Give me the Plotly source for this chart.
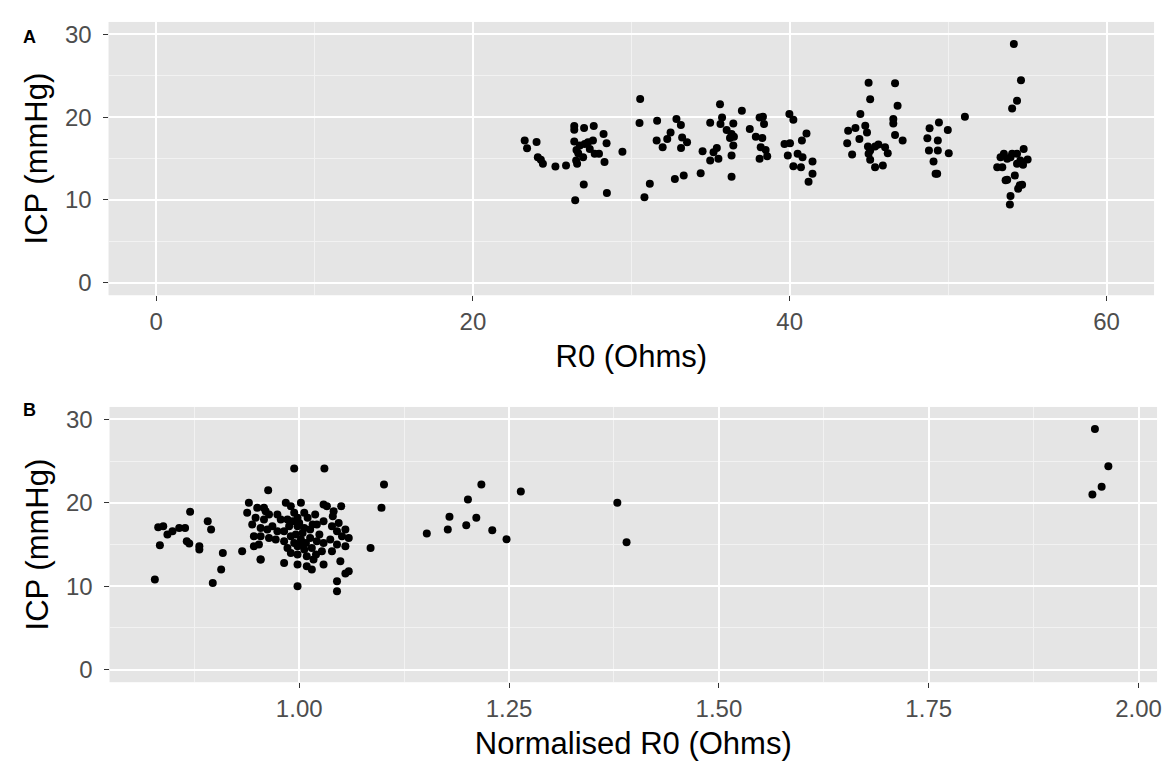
import plotly.graph_objects as go

# ---- Panel A data: R0 (Ohms) vs ICP (mmHg) ----
r0 = [23.27, 23.42, 24.02, 24.1, 24.29, 24.42, 25.21, 25.88, 26.4, 26.4, 27.02, 27.63, 26.4, 26.54,
      26.65, 26.52, 26.58, 26.96, 26.75, 27.06, 27.27, 27.58, 27.38, 27.69, 27.96, 28.25, 28.44, 28.31,
      27.0, 26.46, 28.46, 29.44, 30.56, 30.52, 30.83, 31.17, 31.63, 31.6, 31.98, 32.27, 32.48, 32.85,
      33.13, 33.21, 33.52, 33.14, 32.75, 33.31, 34.38, 34.5, 34.98, 35.6, 35.73, 35.63, 36.44, 36.02,
      36.33, 36.23, 36.48, 35.4, 35.19, 34.98, 35.5, 36.44, 36.33, 36.33, 36.98, 37.48, 38.1, 38.31,
      38.38, 37.86, 38.27, 38.17, 38.48, 38.1, 38.58, 39.98, 40.23, 39.67, 40.02, 39.88, 40.5, 40.81,
      40.23, 40.71, 40.77, 41.06, 41.44, 41.44, 41.19, 43.69, 44.15, 43.63, 43.94, 44.46, 44.77, 44.88,
      44.4, 44.98, 45.08, 44.94, 45.08, 44.98, 45.39, 45.6, 46.02, 46.19, 45.08, 45.39, 45.88, 46.65,
      46.81, 46.54, 46.54, 46.65, 47.13, 48.83, 49.42, 49.98, 48.69, 49.35, 48.79, 49.35, 50.04, 49.08,
      49.21, 49.31, 51.06, 54.15, 54.6, 54.35, 54.04, 53.52, 54.04, 54.35, 54.77, 53.31, 53.73, 53.1,
      53.42, 53.94, 54.56, 55.02, 54.73, 54.35, 54.21, 53.73, 53.63, 54.52, 54.67, 54.42, 53.94, 53.9]
icp_a = [17.17, 16.25, 17.0, 15.16, 14.85, 14.37, 14.05, 14.17, 18.93, 18.49, 18.69, 18.93, 17.05, 16.05,
         15.64, 14.77, 14.37, 15.16, 16.57, 16.77, 16.96, 17.17, 16.17, 15.57, 15.57, 17.97, 16.84, 14.6,
         11.88, 9.96, 10.84, 15.81, 22.2, 19.29, 10.32, 11.97, 19.57, 17.17, 16.37, 17.37, 18.16, 19.77,
         19.05, 17.56, 16.96, 16.29, 12.52, 12.97, 13.24, 15.88, 19.33, 21.57, 19.97, 19.17, 19.25, 18.45,
         17.97, 17.49, 17.65, 16.29, 15.76, 14.77, 14.97, 16.57, 15.37, 12.81, 20.77, 18.57, 19.97, 20.05,
         19.17, 17.65, 17.49, 16.37, 16.05, 14.97, 15.29, 20.37, 19.69, 16.77, 16.84, 15.37, 15.57, 15.16,
         14.08, 13.96, 17.17, 18.04, 14.65, 13.17, 12.21, 18.37, 18.69, 16.84, 15.49, 20.37, 18.97, 18.16,
         17.37, 24.17, 22.17, 16.45, 15.97, 15.57, 16.45, 16.69, 16.37, 15.64, 14.85, 13.96, 14.17, 24.09,
         21.37, 19.77, 19.25, 17.85, 17.17, 18.65, 19.37, 18.45, 17.45, 17.17, 15.97, 15.97, 15.64, 14.65,
         13.17, 13.17, 20.05, 28.85, 24.45, 21.97, 21.05, 15.57, 15.57, 15.57, 16.17, 15.16, 14.97, 13.96,
         13.96, 15.16, 14.77, 14.89, 14.25, 14.37, 12.97, 12.45, 12.37, 11.77, 11.85, 11.37, 10.48, 9.45]

# ---- Panel B data: Normalised R0 vs ICP (mmHg) ----
norm_r0 = [0.828, 0.832, 0.838, 0.834, 0.843, 0.849, 0.857, 0.864, 0.870, 0.866, 0.869,
           0.994, 1.030, 0.963, 1.101,
           1.152, 1.177, 1.179, 1.199, 1.201, 1.211, 1.217, 1.230,
           1.247, 1.264, 1.379, 1.390, 1.948, 1.964, 1.956, 1.945,
           0.940, 0.950, 0.958, 0.938, 0.948, 0.958, 0.964, 0.974, 0.984, 0.990, 1.002, 0.994, 0.986,
           0.998, 1.006, 1.029, 1.033, 1.041, 1.019, 1.021, 1.029, 1.039, 1.047, 1.045, 1.055, 1.051,
           1.059, 0.944, 0.954, 0.962, 0.974, 0.982, 0.988, 0.998, 1.006, 1.013, 0.946, 0.954, 0.964,
           0.972, 0.982, 0.990, 0.994, 1.002, 1.013, 1.021, 1.029, 1.037, 1.045, 1.055, 0.998, 1.006,
           1.015, 1.027, 1.039, 0.990, 0.998, 1.009, 1.017, 1.029, 0.982, 0.998, 1.009, 0.954, 0.954,
           0.932, 0.909, 0.891, 0.895, 0.881, 0.881, 0.907, 0.897, 0.998, 1.045, 1.045, 1.055, 1.059,
           1.049, 1.085, 1.098, 1.015, 0.946,
           0.996, 1.000, 1.004, 0.992, 1.010, 0.978, 0.968, 1.024, 1.016, 1.000, 1.008, 0.986,
           1.020, 0.960, 1.050, 1.040, 0.952]
icp_b = [10.8, 17.08, 17.2, 14.92, 16.2, 16.6, 17.0, 17.0, 18.92, 15.4, 15.12,
         24.12, 24.12, 21.52, 22.2,
         16.32, 16.8, 18.32, 17.32, 20.4, 18.2, 22.2, 16.72,
         15.64, 21.36, 20.0, 15.28, 28.84, 24.4, 21.92, 21.0,
         20.0, 19.4, 19.4, 18.8, 18.2, 18.0, 18.6, 18.6, 20.0, 19.6, 20.0, 18.8, 18.0,
         18.2, 18.8, 19.8, 19.6, 19.0, 18.6, 17.4, 17.8, 17.2, 17.6, 16.6, 16.8, 16.0,
         15.8, 17.4, 17.0, 16.8, 16.6, 16.6, 17.2, 17.2, 17.0, 16.8, 16.0, 16.0, 15.8,
         15.6, 15.4, 16.0, 15.2, 15.6, 15.8, 15.4, 15.2, 15.6, 15.0, 14.8, 14.8, 14.4,
         14.6, 14.2, 14.2, 14.0, 13.8, 13.6, 13.2, 12.6, 12.8, 12.6, 12.4, 13.2, 13.2,
         14.2, 14.0, 17.8, 16.8, 14.8, 14.4, 12.0, 10.4, 10.0, 10.6, 9.4, 11.52, 11.8,
         13.0, 14.6, 19.4, 12.0, 14.8,
         16.2, 17.6, 16.4, 17.8, 18.2, 18.0, 17.2, 16.2, 17.4, 15.0, 15.2, 14.6,
         13.8, 19.0, 19.6, 18.4, 15.0]

x_ticks_a = [0, 20, 40, 60]
x_ticks_b = [1.00, 1.25, 1.50, 1.75, 2.00]
y_ticks = [0, 10, 20, 30]

FONT = "Liberation Sans, Arial, Helvetica, sans-serif"
PANEL_BG = "#E5E5E5"
TICK_FONT = dict(family=FONT, size=24, color="#4D4D4D")
TITLE_FONT = dict(family=FONT, size=31, color="#000000")

fig = go.Figure()
fig.add_trace(go.Scatter(x=r0, y=icp_a, mode="markers", xaxis="x", yaxis="y",
                         marker=dict(color="black", size=8, line=dict(width=0)),
                         showlegend=False, hoverinfo="skip"))
fig.add_trace(go.Scatter(x=norm_r0, y=icp_b, mode="markers", xaxis="x2", yaxis="y2",
                         marker=dict(color="black", size=8, line=dict(width=0)),
                         showlegend=False, hoverinfo="skip"))

def xaxis(domain, rng, tickvals, fmt, minor_dtick, title, anchor):
    return dict(domain=domain, range=rng, tickmode="array", tickvals=tickvals,
                tickformat=fmt, ticks="outside", ticklen=5, tickwidth=1.2, tickcolor="#333333",
                tickfont=TICK_FONT, showgrid=True, gridcolor="white", gridwidth=1.8,
                minor=dict(tick0=0, dtick=minor_dtick, showgrid=True, gridcolor="#F2F2F2", gridwidth=0.9),
                zeroline=False, showline=False, anchor=anchor,
                title=dict(text=title, font=TITLE_FONT, standoff=11))

def yaxis(domain, anchor):
    return dict(domain=domain, range=[-1.5, 31.5], tickmode="array", tickvals=y_ticks,
                ticks="outside", ticklen=5, tickwidth=1.2, tickcolor="#333333",
                tickfont=TICK_FONT, showgrid=True, gridcolor="white", gridwidth=1.8,
                minor=dict(tick0=0, dtick=5, showgrid=True, gridcolor="#F2F2F2", gridwidth=0.9),
                zeroline=False, showline=False, anchor=anchor, ticklabelstandoff=6,
                title=dict(text="ICP (mmHg)", font=TITLE_FONT, standoff=8))

W, H = 1170, 762
dom_ax = [109 / W, 1159 / W]
dom_bx = [110 / W, 1162 / W]
dom_ay = [1 - 295 / H, 1 - 21 / H]
dom_by = [1 - 683 / H, 1 - 407 / H]

fig.update_layout(
    width=W, height=H,
    margin=dict(l=0, r=0, t=0, b=0),
    paper_bgcolor="white",
    plot_bgcolor=PANEL_BG,
    font=dict(family=FONT),
    xaxis=xaxis(dom_ax, [-3, 63], x_ticks_a, "d", 10, "R0 (Ohms)", "y"),
    yaxis=yaxis(dom_ay, "x"),
    xaxis2=xaxis(dom_bx, [0.774, 2.022], x_ticks_b, ".2f", 0.125, "Normalised R0 (Ohms)", "y2"),
    yaxis2=yaxis(dom_by, "x2"),
    annotations=[
        dict(text="<b>A</b>", x=21 / W, y=1 - 24 / H, xref="paper", yref="paper",
             showarrow=False, font=dict(family=FONT, size=18, color="black")),
        dict(text="<b>B</b>", x=21 / W, y=1 - 410 / H, xref="paper", yref="paper",
             showarrow=False, font=dict(family=FONT, size=18, color="black")),
    ],
)

fig.write_html("out.html")
